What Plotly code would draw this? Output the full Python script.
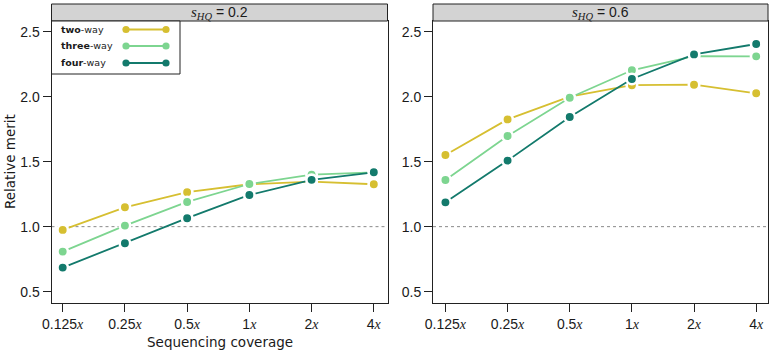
import plotly.graph_objects as go

W, H = 772, 353

coverage = ["0.125", "0.25", "0.5", "1", "2", "4"]
series_names = ["two-way", "three-way", "four-way"]
series_bold = ["two", "three", "four"]
series_colors = ["#D6BF31", "#7DD590", "#137A6C"]

# s_HQ = 0.2
panel1 = {
    "two-way":   [0.975, 1.149, 1.265, 1.326, 1.346, 1.326],
    "three-way": [0.808, 1.008, 1.190, 1.328, 1.400, 1.418],
    "four-way":  [0.685, 0.872, 1.065, 1.244, 1.360, 1.418],
}
# s_HQ = 0.6
panel2 = {
    "two-way":   [1.551, 1.825, 2.000, 2.088, 2.092, 2.026],
    "three-way": [1.359, 1.697, 1.992, 2.203, 2.312, 2.310],
    "four-way":  [1.187, 1.508, 1.843, 2.136, 2.325, 2.405],
}
panel_titles = ["0.2", "0.6"]

tick_labels = [c + '<span style="font-family:Liberation Serif"><i>x</i></span>' for c in coverage]

fig = go.Figure()
for i, (pdata, xa, ya) in enumerate([(panel1, "x", "y"), (panel2, "x2", "y2")]):
    for name, col in zip(series_names, series_colors):
        fig.add_trace(go.Scatter(
            x=list(range(len(coverage))), y=pdata[name], mode="lines+markers",
            xaxis=xa, yaxis=ya, showlegend=False,
            line=dict(color=col, width=1.8),
            marker=dict(color=col, size=10.5, line=dict(color="white", width=2.6)),
        ))

def px_x(x):
    return x / W

def px_y(y):
    return 1 - y / H

top_px, bot_px = 21, 302.7
strip_top = 4
p1 = (51.5, 387.5)
p2 = (433, 768)

tickfont = dict(family="Liberation Sans, Arial", size=14, color="#1a1a1a")
common_x = dict(tickmode="array", tickvals=list(range(6)), ticktext=tick_labels,
                showline=True, mirror=True, linecolor="#222", linewidth=1,
                ticks="outside", ticklen=8, tickcolor="#222", showgrid=False,
                zeroline=False, tickfont=tickfont, automargin=False)
common_y = dict(range=[0.415, 2.582], tickvals=[0.5, 1.0, 1.5, 2.0, 2.5],
                ticktext=["0.5", "1.0", "1.5", "2.0", "2.5"],
                showline=True, mirror=True, linecolor="#222", linewidth=1,
                ticks="outside", ticklen=8, tickcolor="#222", showgrid=False,
                zeroline=False, tickfont=tickfont, automargin=False)

ydom = [px_y(bot_px), px_y(top_px)]
fig.update_layout(
    width=W, height=H, margin=dict(l=0, r=0, t=0, b=0, pad=0),
    paper_bgcolor="white", plot_bgcolor="white",
    xaxis=dict(domain=[px_x(p1[0]), px_x(p1[1])], range=[-0.18, 5.22], anchor="y", **common_x),
    yaxis=dict(domain=ydom, anchor="x", **common_y),
    xaxis2=dict(domain=[px_x(p2[0]), px_x(p2[1])], range=[-0.2, 5.19], anchor="y2", **common_x),
    yaxis2=dict(domain=ydom, anchor="x2", **common_y),
    font=dict(family="DejaVu Sans", color="#1a1a1a"),
)

shapes = []
annotations = []
for (pl, pr), xa, title in [(p1, "x", panel_titles[0]), (p2, "x2", panel_titles[1])]:
    # reference line
    shapes.append(dict(type="line", xref=f"{xa} domain", yref=xa.replace("x", "y"),
                       x0=0, x1=1, y0=1.0, y1=1.0,
                       line=dict(color="#8a8a8a", width=1, dash="dot"), layer="below"))
    # strip
    shapes.append(dict(type="rect", xref="paper", yref="paper",
                       x0=px_x(pl), x1=px_x(pr), y0=px_y(top_px), y1=px_y(strip_top),
                       fillcolor="#D3D3D3", line=dict(color="#222", width=1)))
    annotations.append(dict(
        xref="paper", yref="paper", x=px_x((pl + pr) / 2), y=px_y((top_px + strip_top) / 2),
        text='<span style="font-family:Liberation Serif;font-size:15px"><i>s</i><sub><i>HQ</i></sub></span> = ' + title,
        showarrow=False, font=dict(family="Liberation Sans, Arial", size=14, color="#1a1a1a"),
        xanchor="center", yanchor="middle"))

# legend box
shapes.append(dict(type="rect", xref="paper", yref="paper",
                   x0=px_x(p1[0]), x1=px_x(180), y0=px_y(74), y1=px_y(top_px),
                   fillcolor="white", line=dict(color="#222", width=1)))
legend_y = [29.5, 46, 63]
for ly, name, bold, col in zip(legend_y, series_names, series_bold, series_colors):
    annotations.append(dict(xref="paper", yref="paper", x=px_x(59), y=px_y(ly),
                            text=f"<b>{bold}</b>{name[len(bold):]}", showarrow=False,
                            xanchor="left", yanchor="middle",
                            font=dict(family="DejaVu Sans", size=9.5, color="#1a1a1a")))
    shapes.append(dict(type="line", xref="paper", yref="paper",
                       x0=px_x(126), x1=px_x(166), y0=px_y(ly), y1=px_y(ly),
                       line=dict(color=col, width=1.8)))
    for cx in (126, 166):
        shapes.append(dict(type="circle", xref="paper", yref="paper",
                           xsizemode="pixel", ysizemode="pixel",
                           xanchor=px_x(cx), yanchor=px_y(ly),
                           x0=-3.6, x1=3.6, y0=-3.6, y1=3.6,
                           fillcolor=col, line=dict(color=col, width=0)))

annotations.append(dict(xref="paper", yref="paper", x=px_x(220), y=px_y(342),
                        text="Sequencing coverage", showarrow=False,
                        xanchor="center", yanchor="middle",
                        font=dict(family="DejaVu Sans", size=13.5, color="#1a1a1a")))
annotations.append(dict(xref="paper", yref="paper", x=px_x(10), y=px_y(162),
                        text="Relative merit", showarrow=False, textangle=-90,
                        xanchor="center", yanchor="middle",
                        font=dict(family="DejaVu Sans", size=13.5, color="#1a1a1a")))

fig.update_layout(shapes=shapes, annotations=annotations)
fig.write_html("out.html", config={"displayModeBar": False},
               post_script="document.body.style.margin='0';document.body.style.overflow='hidden';")
